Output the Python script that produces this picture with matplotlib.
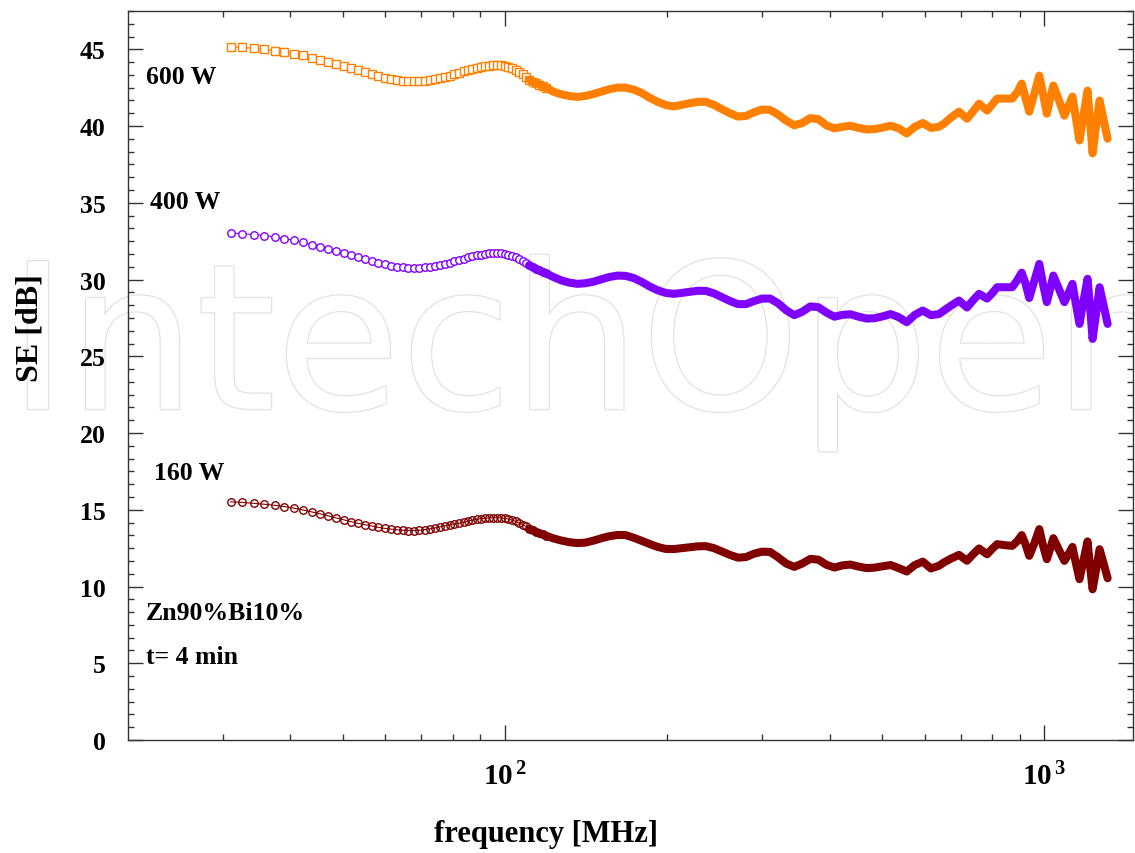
import numpy as np
import matplotlib
matplotlib.use('Agg')
import matplotlib.pyplot as plt
from matplotlib.ticker import MultipleLocator, FixedLocator, NullFormatter
import matplotlib.patheffects as pe

plt.rcParams['font.family'] = 'Liberation Serif'
plt.rcParams['font.weight'] = 'bold'
plt.rcParams['mathtext.fontset'] = 'custom'
plt.rcParams['mathtext.rm'] = 'Liberation Serif:bold'
plt.rcParams['mathtext.bf'] = 'Liberation Serif:bold'

# frequency points in MHz
freq = [31.0, 32.6, 34.2, 35.8, 37.4, 39.0, 40.6, 42.2, 43.8, 45.4,
        47.0, 48.6, 50.2, 51.8, 53.4, 55.0, 56.6, 58.2, 59.8, 61.4,
        63.0, 64.6, 66.2, 67.8, 69.4, 71.0, 72.6, 74.2, 75.8, 77.4,
        79.0, 80.6, 82.2, 83.8, 85.4, 87.0, 88.6, 90.2, 91.8, 93.4,
        95.0, 96.6, 98.2, 99.8, 101.4, 103.0, 104.6, 106.2, 107.8, 109.4,
        111.0, 112.6, 114.2, 115.8, 117.4, 119.0,
        122.8, 127.1, 131.6, 136.2, 140.9, 145.9, 151.0, 156.2, 161.7, 167.3,
        173.2, 179.2, 185.5, 191.9, 198.6, 205.6, 212.7, 220.1, 227.8, 235.8,
        244.0, 252.5, 261.3, 270.4, 279.9, 289.6, 299.7, 310.2, 321.0, 332.2,
        343.8, 355.8, 368.2, 381.1, 394.4, 408.1, 422.4, 437.1, 452.4, 468.2,
        484.5, 501.4, 518.9, 537.0, 555.8, 575.2, 595.3, 616.1, 637.6, 651.4,
        671.3, 694.7, 718.9, 737.7, 756.8, 783.3, 800.2, 817.6,
        842.2, 871.9, 890.8, 908.0, 921.7, 937.7, 958.0, 978.8, 995.7, 1010.8,
        1023.9, 1039.3, 1064.1, 1089.5, 1108.4, 1127.6, 1144.6, 1162.0, 1182.0, 1202.7,
        1215.7, 1228.8, 1247.4, 1266.2, 1288.1, 1310.4]

se_600 = [45.16, 45.12, 45.07, 44.99, 44.91, 44.82, 44.72, 44.60, 44.45, 44.31,
          44.17, 44.03, 43.89, 43.76, 43.63, 43.51, 43.39, 43.27, 43.16, 43.07,
          43.00, 42.95, 42.92, 42.91, 42.92, 42.95, 42.99, 43.05, 43.12, 43.20,
          43.29, 43.38, 43.47, 43.56, 43.64, 43.72, 43.79, 43.85, 43.90, 43.94,
          43.96, 43.97, 43.96, 43.92, 43.86, 43.78, 43.68, 43.55, 43.38, 43.20,
          43.02, 42.90, 42.80, 42.70, 42.60, 42.50,
          42.25, 42.07, 41.96, 41.90, 41.96, 42.09, 42.25, 42.40, 42.51, 42.50,
          42.38, 42.16, 41.84, 41.58, 41.37, 41.28, 41.38, 41.49, 41.58, 41.58,
          41.38, 41.10, 40.83, 40.62, 40.66, 40.90, 41.08, 41.05, 40.75, 40.35,
          40.05, 40.20, 40.52, 40.45, 40.05, 39.85, 39.95, 40.02, 39.88, 39.78,
          39.80, 39.90, 40.02, 39.85, 39.52, 39.95, 40.20, 39.88, 39.95, 40.16,
          40.55, 40.94, 40.48, 40.95, 41.46, 41.01, 41.40, 41.79,
          41.79, 41.79, 42.20, 42.77, 41.90, 40.94, 42.10, 43.29, 42.00, 40.81,
          41.70, 42.64, 41.70, 40.68, 41.30, 41.92, 40.50, 39.06, 40.70, 42.31,
          40.30, 38.22, 40.00, 41.66, 40.40, 39.18]

se_400 = [33.03, 32.99, 32.93, 32.87, 32.78, 32.67, 32.55, 32.43, 32.28, 32.14,
          31.99, 31.85, 31.71, 31.58, 31.45, 31.33, 31.21, 31.10, 31.00, 30.91,
          30.84, 30.80, 30.77, 30.76, 30.77, 30.79, 30.83, 30.88, 30.95, 31.03,
          31.11, 31.19, 31.28, 31.37, 31.45, 31.52, 31.58, 31.63, 31.67, 31.70,
          31.71, 31.71, 31.70, 31.67, 31.62, 31.54, 31.44, 31.32, 31.19, 31.05,
          30.92, 30.81, 30.70, 30.60, 30.51, 30.42,
          30.17, 29.95, 29.80, 29.72, 29.76, 29.86, 30.02, 30.17, 30.26, 30.24,
          30.10, 29.85, 29.55, 29.30, 29.13, 29.07, 29.13, 29.20, 29.27, 29.26,
          29.10, 28.85, 28.60, 28.40, 28.40, 28.60, 28.76, 28.76, 28.45, 28.00,
          27.68, 27.90, 28.25, 28.20, 27.85, 27.58, 27.70, 27.74, 27.58, 27.46,
          27.48, 27.60, 27.75, 27.55, 27.22, 27.70, 27.98, 27.68, 27.75, 27.98,
          28.30, 28.63, 28.18, 28.65, 29.07, 28.76, 29.10, 29.50,
          29.50, 29.50, 29.95, 30.45, 29.80, 28.80, 29.90, 31.02, 29.60, 28.53,
          29.30, 30.26, 29.40, 28.53, 29.10, 29.72, 28.40, 27.11, 28.60, 30.05,
          28.20, 26.13, 27.80, 29.50, 28.30, 27.11]

se_160 = [15.52, 15.48, 15.42, 15.36, 15.29, 15.21, 15.11, 14.99, 14.86, 14.74,
          14.60, 14.47, 14.35, 14.23, 14.12, 14.03, 13.94, 13.86, 13.79, 13.74,
          13.70, 13.67, 13.65, 13.65, 13.67, 13.71, 13.76, 13.82, 13.89, 13.96,
          14.03, 14.08, 14.13, 14.19, 14.26, 14.33, 14.38, 14.42, 14.45, 14.47,
          14.48, 14.48, 14.47, 14.44, 14.40, 14.33, 14.25, 14.15, 14.04, 13.92,
          13.78, 13.66, 13.56, 13.47, 13.39, 13.32,
          13.14, 13.00, 12.89, 12.83, 12.86, 12.99, 13.15, 13.28, 13.36, 13.35,
          13.18, 12.98, 12.77, 12.58, 12.45, 12.44, 12.50, 12.56, 12.62, 12.63,
          12.50, 12.28, 12.06, 11.88, 11.92, 12.14, 12.27, 12.25, 11.90, 11.50,
          11.28, 11.50, 11.80, 11.75, 11.42, 11.24, 11.38, 11.43, 11.30, 11.20,
          11.23, 11.32, 11.40, 11.20, 10.98, 11.40, 11.62, 11.18, 11.35, 11.57,
          11.82, 12.06, 11.68, 12.10, 12.48, 12.10, 12.45, 12.76,
          12.70, 12.65, 12.95, 13.35, 12.80, 12.00, 12.80, 13.74, 12.60, 11.78,
          12.40, 13.15, 12.40, 11.67, 12.10, 12.58, 11.50, 10.48, 11.70, 12.94,
          11.30, 9.82, 11.10, 12.43, 11.50, 10.54]

labels = ['600 W', '400 W', '160 W']
colors = ['#ff8000', '#8000ff', '#800000']
markers = ['s', 'o', 'o']
faces = ['white', 'white', 'none']

yticks = [0, 5, 10, 15, 20, 25, 30, 35, 40, 45]
xticks = [100, 1000]
xticklabels = [r'$\mathbf{10^{\,2}}$', r'$\mathbf{10^{\,3}}$']
xminor = [30, 40, 50, 60, 70, 80, 90, 200, 300, 400, 500, 600, 700, 800, 900]

fig = plt.figure(figsize=(11.35, 8.54), dpi=100)

# faint watermark behind everything
fig.text(8/1135, 1-410/854, 'IntechOpen', fontsize=146, family='DejaVu Sans',
         weight='normal', color='white', zorder=-5, va='baseline', ha='left',
         path_effects=[pe.withStroke(linewidth=1.8, foreground='#e2e2e2')])

ax = fig.add_axes([0.1128, 0.1323, 0.8854, 0.8537])
ax.patch.set_visible(False)

nb = 50  # from here on the markers run together into a solid band
for vals, col, mk, fc in zip([se_600, se_400, se_160], colors, markers, faces):
    ax.plot(freq, vals, '-', color=col, lw=0.8, zorder=2)
    ax.plot(freq[:nb + 6], vals[:nb + 6], ls='none', marker=mk, ms=5.4,
            mfc=fc, mec=col, mew=1.0, zorder=3)
    ax.plot(freq[nb:], vals[nb:], '-', color=col, lw=5.8, zorder=4,
            solid_joinstyle='round', solid_capstyle='round')

ax.set_xscale('log')
ax.set_xlim(20, 1460)
ax.set_ylim(0, 47.5)
ax.xaxis.set_major_locator(FixedLocator(xticks))
ax.xaxis.set_minor_locator(FixedLocator(xminor))
ax.xaxis.set_minor_formatter(NullFormatter())
ax.set_xticklabels(xticklabels)
ax.set_yticks(yticks)
ax.yaxis.set_minor_locator(MultipleLocator(5 / 6))

ax.tick_params(which='both', direction='in', top=True, right=True, width=1, color='#333333')
ax.tick_params(which='major', length=11)
ax.tick_params(which='minor', length=4.5)
ax.tick_params(axis='y', labelsize=18.5, pad=16)
ax.tick_params(axis='x', labelsize=21, pad=16)
for s in ax.spines.values():
    s.set_color('#333333')
    s.set_linewidth(1)

ax.text(21.6, 43.2, labels[0], fontsize=18.5, va='center', ha='left')
ax.text(22.0, 35.07, labels[1], fontsize=18.5, va='center', ha='left')
ax.text(22.3, 17.46, labels[2], fontsize=18.5, va='center', ha='left')
ax.text(21.6, 8.32, 'Zn90%Bi10%', fontsize=18.5, va='center', ha='left')
ax.text(21.6, 5.45, 't= 4 min', fontsize=18.5, va='center', ha='left')

fig.text(546/1135, 1-835/854, 'frequency [MHz]', fontsize=22, ha='center', va='center')
fig.text(30/1135, 1-328/854, 'SE [dB]', fontsize=23, rotation=90, ha='center', va='center')

fig.savefig('out.png', dpi=100)
